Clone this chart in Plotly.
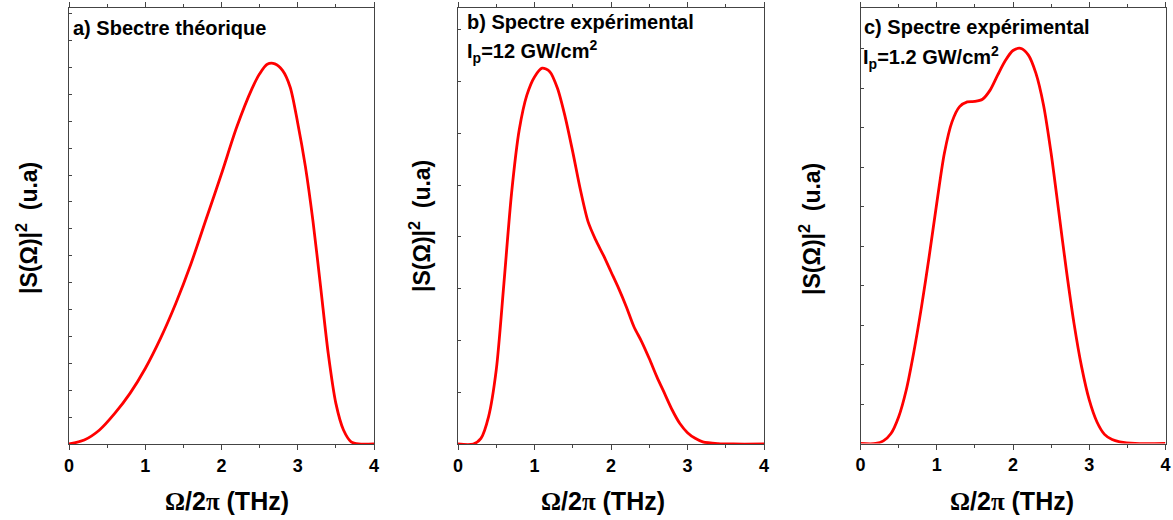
import plotly.graph_objects as go

# ---- data (arbitrary units, 0 = baseline) ----
x_a = [0.0, 0.2, 0.4, 0.6, 0.8, 1.0, 1.2, 1.4, 1.6, 1.8, 2.0, 2.2, 2.4, 2.5, 2.6, 2.7, 2.8, 2.9,
       3.0, 3.1, 3.2, 3.3, 3.4, 3.5, 3.6, 3.7, 3.8, 4.0]
y_a = [0.0, 0.009, 0.032, 0.070, 0.116, 0.173, 0.242, 0.322, 0.413, 0.516, 0.619, 0.726, 0.814,
       0.848, 0.870, 0.871, 0.856, 0.818, 0.735, 0.636, 0.510, 0.360, 0.207, 0.093, 0.032, 0.005,
       0.0, 0.0]

x_b = [0.0, 0.2, 0.3, 0.4, 0.5, 0.6, 0.7, 0.8, 0.9, 1.0, 1.1, 1.2, 1.3, 1.4, 1.5, 1.6, 1.7, 1.8,
       1.9, 2.0, 2.1, 2.2, 2.3, 2.4, 2.5, 2.6, 2.7, 2.8, 2.9, 3.0, 3.1, 3.2, 3.4, 3.6, 4.0]
y_b = [0.0, 0.0, 0.013, 0.063, 0.170, 0.368, 0.575, 0.720, 0.800, 0.842, 0.862, 0.854, 0.816,
       0.751, 0.670, 0.583, 0.510, 0.468, 0.433, 0.395, 0.357, 0.315, 0.269, 0.235, 0.196, 0.154,
       0.116, 0.078, 0.047, 0.026, 0.013, 0.005, 0.001, 0.0, 0.0]

x_c = [0.0, 0.2, 0.3, 0.4, 0.5, 0.6, 0.7, 0.8, 0.9, 1.0, 1.1, 1.2, 1.3, 1.4, 1.5, 1.6, 1.7, 1.8,
       1.9, 2.0, 2.1, 2.2, 2.3, 2.4, 2.5, 2.6, 2.7, 2.8, 2.9, 3.0, 3.1, 3.2, 3.3, 3.4, 3.6, 4.0]
y_c = [0.0, 0.0, 0.006, 0.023, 0.061, 0.123, 0.211, 0.314, 0.429, 0.552, 0.667, 0.739, 0.774,
       0.785, 0.786, 0.791, 0.812, 0.847, 0.880, 0.903, 0.908, 0.893, 0.851, 0.778, 0.667, 0.533,
       0.398, 0.276, 0.176, 0.100, 0.050, 0.021, 0.009, 0.004, 0.0, 0.0]

x_ticks = [0, 1, 2, 3, 4]
panel_labels = ["a) Sbectre théorique", "b) Spectre expérimental", "c) Spectre expérimental"]
intensity_labels = ["", "I<sub>p</sub>=12 GW/cm<sup>2</sup>", "I<sub>p</sub>=1.2 GW/cm<sup>2</sup>"]
x_title = '<span style="font-family:Liberation Serif">Ω</span>/2<span style="font-family:Liberation Serif">π</span> (THz)'
y_title = "|S(Ω)|<sup>2</sup>  (u.a)"

W, H = 1173, 520
FONT = "Liberation Sans, Arial, sans-serif"
AX = "#444"


def px(v):
    return v / W


def py(v):
    return 1 - v / H


fig = go.Figure()
series = [(x_a, y_a), (x_b, y_b), (x_c, y_c)]
for i, (xs, ys) in enumerate(series):
    sfx = "" if i == 0 else str(i + 1)
    fig.add_trace(go.Scatter(x=xs, y=ys, mode="lines",
                             line=dict(color="#ff0000", width=2.8, shape="spline", smoothing=0.8),
                             xaxis="x" + sfx, yaxis="y" + sfx, showlegend=False,
                             hoverinfo="skip"))

# panel pixel geometry
xdom_px = [(69, 374), (458, 764), (860.5, 1165.5)]
ydom_px = [(7.5, 444), (8, 444), (8.3, 443.5)]
ytick_frac = [26.9 / 436.5, 51.8 / 436, 39.5 / 435.2]

layout = dict(width=W, height=H, margin=dict(l=0, r=0, t=0, b=0),
              paper_bgcolor="white", plot_bgcolor="white",
              font=dict(family=FONT, color="black"))
for i in range(3):
    sfx = "" if i == 0 else str(i + 1)
    x0, x1 = xdom_px[i]
    t, b = ydom_px[i]
    layout["xaxis" + sfx] = dict(
        domain=[px(x0), px(x1)], range=[0, 4], anchor="y" + sfx, automargin=False,
        tickmode="array", tickvals=x_ticks, ticktext=[f"<b>{v}</b>" for v in x_ticks],
        ticks="outside", ticklen=5, tickwidth=1, tickcolor=AX,
        minor=dict(dtick=0.5, tick0=0, ticks="outside", ticklen=3, tickcolor=AX),
        showline=True, linecolor=AX, linewidth=1, mirror="allticks",
        showgrid=False, zeroline=False,
        tickfont=dict(size=18, family=FONT, color="black"))
    layout["yaxis" + sfx] = dict(
        domain=[py(b), py(t)], range=[0, 1], anchor="x" + sfx, automargin=False,
        tick0=0, dtick=ytick_frac[i], ticks="inside", ticklen=3, tickwidth=1, tickcolor=AX,
        showticklabels=False,
        showline=True, linecolor=AX, linewidth=1, mirror=True,
        showgrid=False, zeroline=False)
    # right-hand tick marks (outward) on an overlaying axis
    layout["yaxis" + str(i + 4)] = dict(
        overlaying="y" + sfx, side="right", anchor="x" + sfx, range=[0, 1],
        tick0=0, dtick=ytick_frac[i], ticks="outside", ticklen=3, tickwidth=1, tickcolor=AX,
        showticklabels=False, showline=False, showgrid=False, zeroline=False, automargin=False)

ann = []
label_pos = [(71, 28), (465, 22), (862, 27)]
int_pos = [None, (465, 52), (861, 57)]
xt_cx = [227, 603, 1012]
yt_cx = [(27, 228), (420, 226), (810, 229)]
for i in range(3):
    lx, ly = label_pos[i]
    ann.append(dict(text=f"<b>{panel_labels[i]}</b>", x=px(lx), y=py(ly), xref="paper", yref="paper",
                    xanchor="left", yanchor="middle", showarrow=False,
                    font=dict(size=20, family=FONT, color="black")))
    if intensity_labels[i]:
        ix, iy = int_pos[i]
        ann.append(dict(text=f"<b>{intensity_labels[i]}</b>", x=px(ix), y=py(iy), xref="paper", yref="paper",
                        xanchor="left", yanchor="middle", showarrow=False,
                        font=dict(size=20, family=FONT, color="black")))
    ann.append(dict(text=f"<b>{x_title}</b>", x=px(xt_cx[i]), y=py(501), xref="paper", yref="paper",
                    xanchor="center", yanchor="middle", showarrow=False,
                    font=dict(size=25, family=FONT, color="black")))
    yx, yy = yt_cx[i]
    ann.append(dict(text=f"<b>{y_title}</b>", x=px(yx), y=py(yy), xref="paper", yref="paper",
                    xanchor="center", yanchor="middle", showarrow=False, textangle=-90,
                    font=dict(size=23, family=FONT, color="black")))
layout["annotations"] = ann
fig.update_layout(**layout)
fig.write_html("out.html")
